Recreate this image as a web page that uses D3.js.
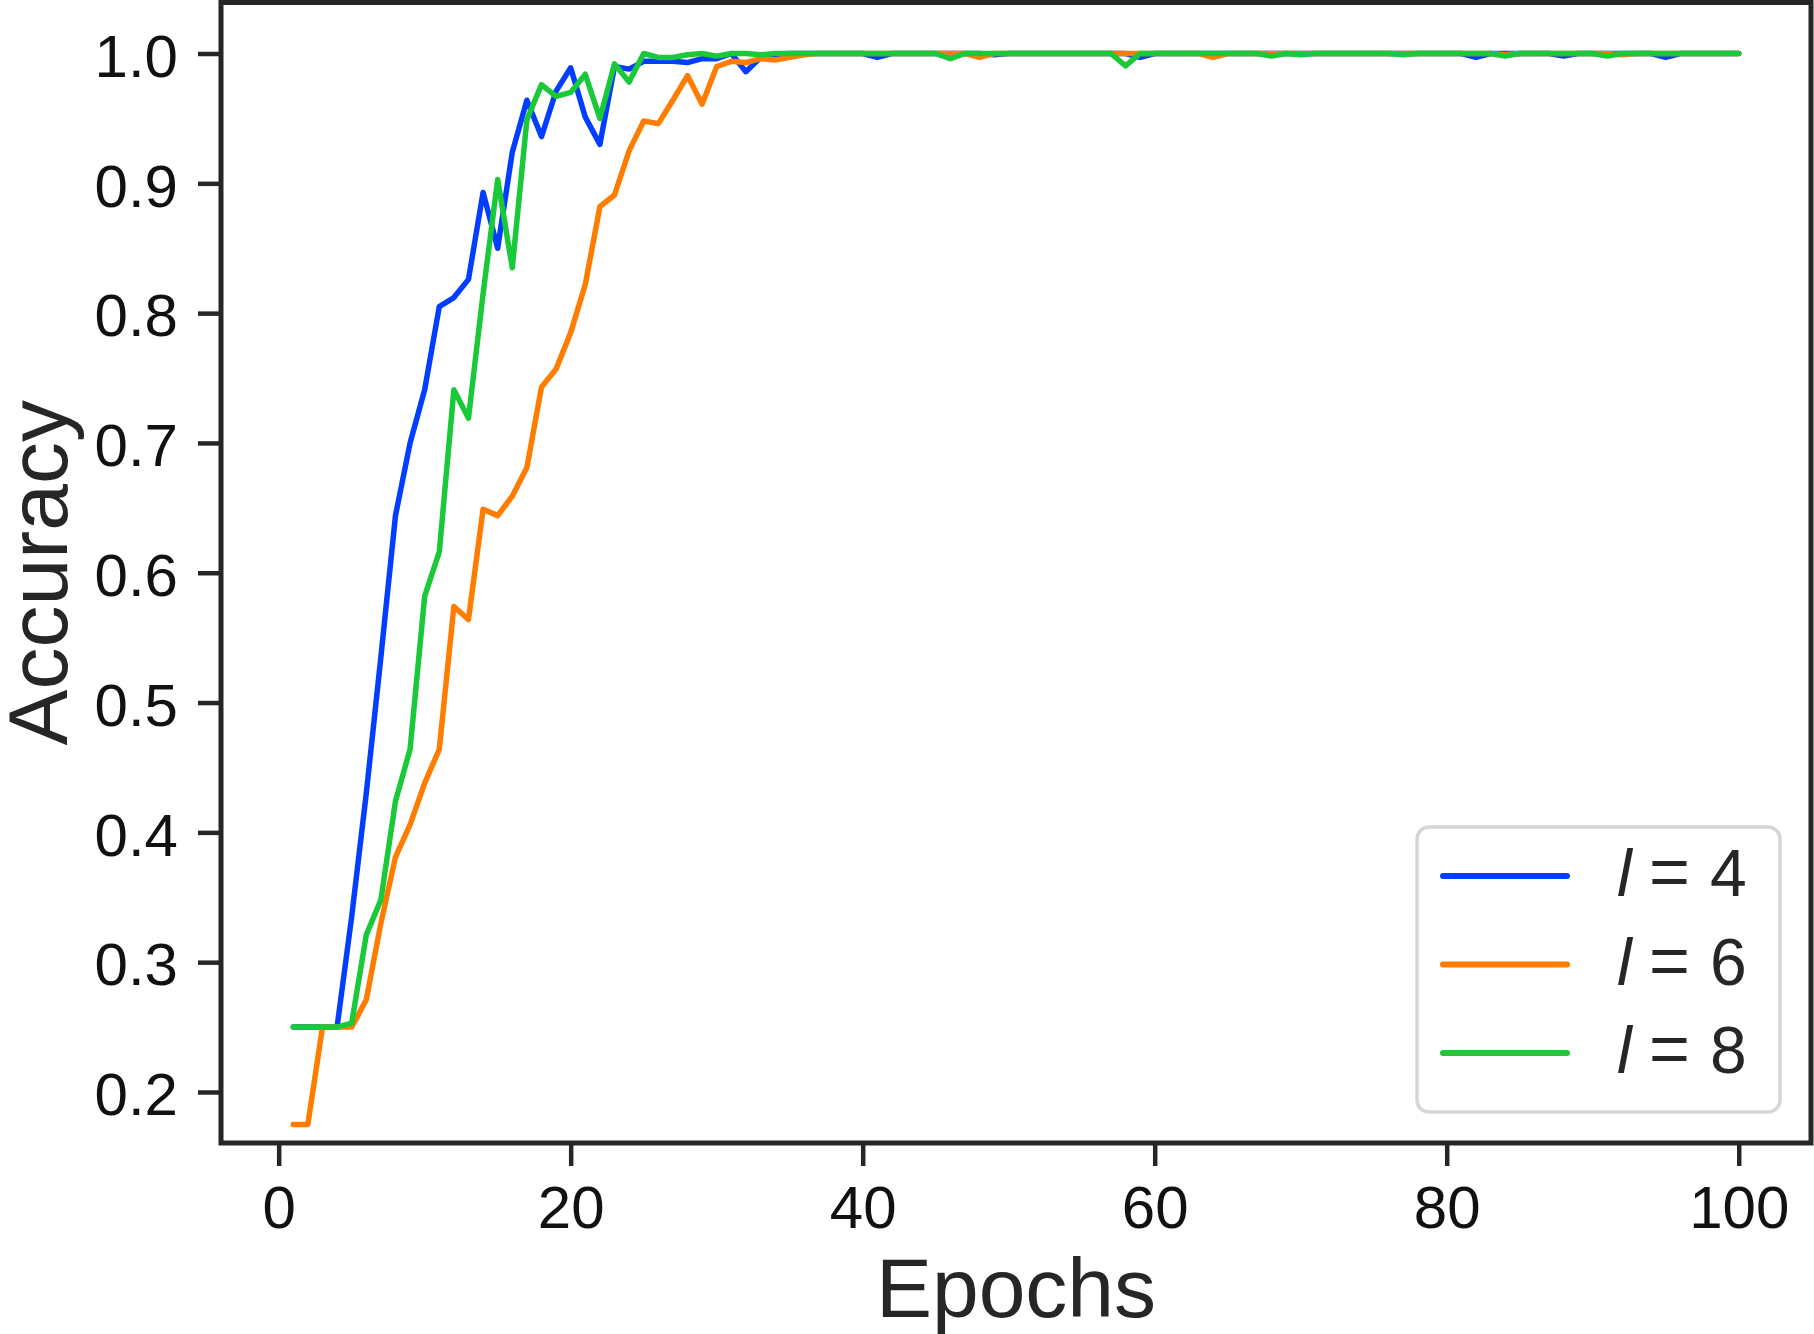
<!DOCTYPE html>
<html>
<head>
<meta charset="utf-8">
<script src="https://cdn.jsdelivr.net/npm/d3@7"></script>
<style>
  html, body { margin: 0; padding: 0; background: #fff; }
  svg { display: block; font-family: "Liberation Sans", Arial, sans-serif; }
</style>
</head>
<body>
<svg id="chart" width="1814" height="1334"></svg>
<script>
// accuracy per epoch (epochs 1..100)
var epochs = d3.range(1, 101);

var accL4 = [
  0.250, 0.250, 0.250, 0.250, 0.335, 0.430, 0.535, 0.644, 0.700, 0.741,
  0.805, 0.812, 0.826, 0.893, 0.850, 0.924, 0.964, 0.936, 0.971, 0.989,
  0.951, 0.930, 0.990, 0.988, 0.994, 0.994, 0.994, 0.993, 0.996, 0.996,
  1.000, 0.986, 0.997, 0.999, 1.000, 1.000, 1.000, 1.000, 1.000, 1.000,
  0.997, 1.000, 1.000, 1.000, 1.000, 1.000, 1.000, 1.000, 0.999, 1.000,
  1.000, 1.000, 1.000, 1.000, 1.000, 1.000, 1.000, 1.000, 0.997, 1.000,
  1.000, 1.000, 1.000, 1.000, 1.000, 1.000, 1.000, 1.000, 1.000, 1.000,
  1.000, 1.000, 1.000, 1.000, 1.000, 1.000, 1.000, 1.000, 1.000, 1.000,
  1.000, 0.997, 1.000, 1.000, 1.000, 1.000, 1.000, 0.998, 1.000, 1.000,
  1.000, 1.000, 1.000, 1.000, 0.997, 1.000, 1.000, 1.000, 1.000, 1.000
];

var accL6 = [
  0.175, 0.175, 0.250, 0.250, 0.250, 0.271, 0.330, 0.381, 0.406, 0.438,
  0.464, 0.574, 0.564, 0.649, 0.644, 0.659, 0.681, 0.743, 0.757, 0.785,
  0.822, 0.882, 0.891, 0.925, 0.948, 0.946, 0.964, 0.983, 0.961, 0.990,
  0.994, 0.993, 0.996, 0.995, 0.997, 0.999, 1.000, 1.000, 1.000, 1.000,
  1.000, 1.000, 1.000, 1.000, 1.000, 1.000, 1.000, 0.997, 1.000, 1.000,
  1.000, 1.000, 1.000, 1.000, 1.000, 1.000, 1.000, 1.000, 1.000, 1.000,
  1.000, 1.000, 1.000, 0.997, 1.000, 1.000, 1.000, 1.000, 1.000, 1.000,
  1.000, 1.000, 1.000, 1.000, 1.000, 1.000, 1.000, 1.000, 1.000, 1.000,
  1.000, 1.000, 1.000, 0.999, 1.000, 1.000, 1.000, 1.000, 1.000, 1.000,
  1.000, 0.999, 1.000, 1.000, 1.000, 1.000, 1.000, 1.000, 1.000, 1.000
];

var accL8 = [
  0.250, 0.250, 0.250, 0.250, 0.253, 0.321, 0.348, 0.424, 0.464, 0.582,
  0.616, 0.741, 0.719, 0.815, 0.903, 0.835, 0.949, 0.976, 0.967, 0.970,
  0.984, 0.950, 0.992, 0.978, 1.000, 0.997, 0.997, 0.999, 1.000, 0.998,
  1.000, 1.000, 0.999, 1.000, 1.000, 1.000, 1.000, 1.000, 1.000, 1.000,
  1.000, 1.000, 1.000, 1.000, 1.000, 0.996, 1.000, 1.000, 1.000, 1.000,
  1.000, 1.000, 1.000, 1.000, 1.000, 1.000, 1.000, 0.9905, 1.000, 1.000,
  1.000, 1.000, 1.000, 1.000, 1.000, 1.000, 1.000, 0.998, 1.000, 0.999,
  1.000, 1.000, 1.000, 1.000, 1.000, 1.000, 0.999, 1.000, 1.000, 1.000,
  1.000, 1.000, 1.000, 0.998, 1.000, 1.000, 1.000, 1.000, 1.000, 1.000,
  0.998, 1.000, 1.000, 1.000, 1.000, 1.000, 1.000, 1.000, 1.000, 1.000
];

var seriesNames = ["4", "6", "8"];
var seriesColors = ["#023eff", "#ff7c00", "#1ac938"];
var xTicks = [0, 20, 40, 60, 80, 100];
var yTicks = [0.2, 0.3, 0.4, 0.5, 0.6, 0.7, 0.8, 0.9, 1.0];

var series = [accL4, accL6, accL8].map(function(vals, i) {
  return { name: seriesNames[i], color: seriesColors[i],
           values: vals.map(function(v, j) { return { x: epochs[j], y: v }; }) };
});

var svg = d3.select("#chart");
var plotLeft = 221, plotRight = 1811, plotTop = 2.5, plotBottom = 1143;
var ink = "#262626";

var x = d3.scaleLinear().domain([-3.95, 104.95]).range([plotLeft, plotRight]);
var y = d3.scaleLinear().domain([0.1607, 1.0393]).range([plotBottom, plotTop]);

// lines
var line = d3.line()
  .x(function(d) { return x(d.x); })
  .y(function(d) { return y(d.y); });

svg.append("g").selectAll("path")
  .data(series)
  .enter().append("path")
  .attr("d", function(d) { return line(d.values); })
  .attr("fill", "none")
  .attr("stroke", function(d) { return d.color; })
  .attr("stroke-width", 5.5)
  .attr("stroke-linejoin", "round")
  .attr("stroke-linecap", "round");

// axes
var xAxis = svg.append("g")
  .attr("transform", "translate(0," + plotBottom + ")")
  .call(d3.axisBottom(x).tickValues(xTicks).tickSize(23).tickPadding(19).tickFormat(d3.format("d")));
var yAxis = svg.append("g")
  .attr("transform", "translate(" + plotLeft + ",0)")
  .call(d3.axisLeft(y).tickValues(yTicks).tickSize(23).tickPadding(20).tickFormat(d3.format(".1f")));

[xAxis, yAxis].forEach(function(g) {
  g.select(".domain").remove();
  g.selectAll(".tick line").attr("stroke", ink).attr("stroke-width", 4.5);
  g.selectAll(".tick text").attr("fill", "#111").style("font-size", "60px")
    .style("font-family", "'Liberation Sans', Arial, sans-serif");
});
yAxis.selectAll(".tick text").attr("dy", "0.38em");

// frame
svg.append("rect")
  .attr("x", plotLeft).attr("y", plotTop)
  .attr("width", plotRight - plotLeft).attr("height", plotBottom - plotTop)
  .attr("fill", "none").attr("stroke", ink).attr("stroke-width", 5);

// axis labels
svg.append("text")
  .attr("x", (plotLeft + plotRight) / 2).attr("y", 1317)
  .attr("text-anchor", "middle")
  .attr("fill", ink).style("font-size", "84px")
  .text("Epochs");

svg.append("text")
  .attr("transform", "translate(67," + (plotTop + plotBottom) / 2 + ") rotate(-90)")
  .attr("text-anchor", "middle")
  .attr("fill", ink).style("font-size", "84px")
  .text("Accuracy");

// legend
var legend = svg.append("g");
legend.append("rect")
  .attr("x", 1417).attr("y", 827).attr("width", 363).attr("height", 285)
  .attr("rx", 12).attr("ry", 12)
  .attr("fill", "#fff").attr("stroke", "#d6d6d6").attr("stroke-width", 3.5);

var item = legend.selectAll("g.item")
  .data(series)
  .enter().append("g")
  .attr("class", "item")
  .attr("transform", function(d, i) { return "translate(0," + (876 + i * 88.5) + ")"; });

item.append("line")
  .attr("x1", 1443).attr("x2", 1567)
  .attr("stroke", function(d) { return d.color; })
  .attr("stroke-width", 6).attr("stroke-linecap", "round");

var lbl = item.append("text")
  .attr("y", 20)
  .attr("fill", ink).style("font-size", "66px");
lbl.append("tspan").attr("x", 1617).style("font-style", "italic").text("l");
lbl.append("tspan").attr("x", 1649).style("font-size", "70px").text("=");
lbl.append("tspan").attr("x", 1710).text(function(d) { return d.name; });
</script>
</body>
</html>
